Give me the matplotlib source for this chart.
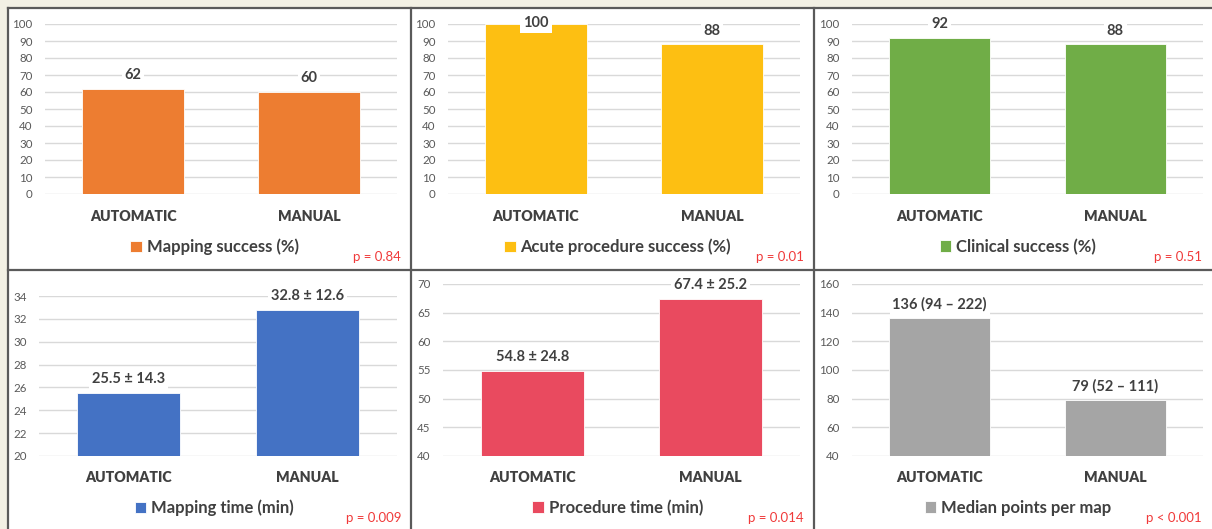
import matplotlib
matplotlib.use('Agg')
import matplotlib.pyplot as plt
from matplotlib.lines import Line2D
from matplotlib.patches import Rectangle
from matplotlib.transforms import blended_transform_factory

plt.rcParams['font.family'] = ['Lato', 'DejaVu Sans']

W, H = 1212, 529

categories = ['AUTOMATIC', 'MANUAL']

mapping_success = [62, 60]
acute_success = [100, 88]
clinical_success = [92, 88]

mapping_time = [25.5, 32.8]
mapping_time_sd = [14.3, 12.6]
procedure_time = [54.8, 67.4]
procedure_time_sd = [24.8, 25.2]

median_points = [136, 79]
points_q1 = [94, 52]
points_q3 = [222, 111]

series_names = ['Mapping success (%)', 'Acute procedure success (%)', 'Clinical success (%)',
                'Mapping time (min)', 'Procedure time (min)', 'Median points per map']
p_values = ['p = 0.84', 'p = 0.01', 'p = 0.51', 'p = 0.009', 'p = 0.014', 'p < 0.001']
colors = ['#ED7D31', '#FDBF12', '#70AD47', '#4472C4', '#E94A5F', '#A5A5A5']

pct_labels = lambda vals: [f'{v:g}' for v in vals]
panels = [
  (mapping_success, pct_labels(mapping_success), (0, 100, 10)),
  (acute_success, pct_labels(acute_success), (0, 100, 10)),
  (clinical_success, pct_labels(clinical_success), (0, 100, 10)),
  (mapping_time, [f'{m} ± {s}' for m, s in zip(mapping_time, mapping_time_sd)], (20, 34, 2)),
  (procedure_time, [f'{m} ± {s}' for m, s in zip(procedure_time, procedure_time_sd)], (40, 70, 5)),
  (median_points, [f'{m} ({a} – {b})' for m, a, b in zip(median_points, points_q1, points_q3)], (40, 160, 20)),
]

# plot areas in pixels: left, top, right, bottom
plot_boxes = [(45, 24, 397, 194), (448, 24, 800, 194), (852, 24, 1203, 194),
              (39, 296, 397, 456), (443, 284, 800, 456), (852, 284, 1203, 456)]
# cell frames in pixels: left, right, category-label y, legend y, p-value y
cells = [(8, 411, 217, 247, 257), (411, 814, 217, 247, 257), (814, 1212, 217, 247, 257),
         (8, 411, 477, 508, 518), (411, 814, 477, 508, 518), (814, 1212, 477, 508, 518)]

def px_rect(x0, y0, x1, y1):
  return [x0 / W, 1 - y1 / H, (x1 - x0) / W, (y1 - y0) / H]

fig = plt.figure(figsize=(W / 100, H / 100), dpi=100)
fig.patch.set_facecolor('#F2F0E4')
fig.patches.append(Rectangle((8 / W, 0), 1, 1 - 8 / H, transform=fig.transFigure,
                             facecolor='white', edgecolor='none', zorder=-2))

# frame around the six cells
frame_kw = dict(color='#5A5A5A', linewidth=1.6, transform=fig.transFigure, zorder=5)
fig.lines.append(Line2D([8 / W, 1], [1 - 8 / H, 1 - 8 / H], **frame_kw))
fig.lines.append(Line2D([8 / W, 8 / W], [0, 1 - 8 / H], **frame_kw))
fig.lines.append(Line2D([8 / W, 1], [1 - 270 / H, 1 - 270 / H], **frame_kw))
for xv in (411, 814):
  fig.lines.append(Line2D([xv / W, xv / W], [0, 1 - 8 / H], **frame_kw))

for i, (values, labels, (ymin, ymax, step)) in enumerate(panels):
  ax = fig.add_axes(px_rect(*plot_boxes[i]))
  ax.bar(range(len(categories)), values, width=0.575, color=colors[i],
         edgecolor='white', linewidth=0.6, label=series_names[i])
  ax.set_xlim(-0.5, 1.5)
  ax.set_ylim(ymin, ymax)
  ax.tick_params(axis='y', length=0, pad=9, labelsize=8.3, labelcolor='#595959')
  ax.set_yticks(range(ymin, ymax + 1, step))
  ax.set_xticks([])
  ax.grid(axis='y', color='#D9D9D9', linewidth=1)
  ax.set_axisbelow(True)
  for s in ax.spines.values():
    s.set_visible(False)
  ax.set_facecolor('none')

  cx0, cx1, cy, ly, py = cells[i]
  # category names under each bar
  cat_trans = blended_transform_factory(ax.transData, fig.transFigure)
  for j, cat in enumerate(categories):
    ax.text(j, 1 - cy / H, cat, transform=cat_trans, ha='center', va='center',
            fontsize=10.2, fontweight='heavy', color='#404040')

  for j, (v, lab) in enumerate(zip(values, labels)):
    off = 1 if v >= ymax else 10
    ax.annotate(lab, (j, v), xytext=(0, off), textcoords='offset points',
                ha='center', va='center', fontsize=10.5, fontweight='bold', color='#404040',
                bbox=dict(boxstyle='square,pad=0.2', facecolor='white', edgecolor='none'),
                annotation_clip=False, zorder=4)

  ax.legend(loc='center', bbox_to_anchor=((cx0 + cx1) / 2 / W + 5 / W, 1 - ly / H),
            bbox_transform=fig.transFigure, frameon=False,
            prop={'weight': 'bold', 'size': 12}, handlelength=0.7, handleheight=0.7,
            handletextpad=0.3, labelcolor='#404040')
  fig.text((cx1 - 10) / W, 1 - py / H, p_values[i], ha='right', va='center',
           fontsize=9.5, color='#F03A3A')

fig.savefig('out.png', dpi=100, facecolor=fig.get_facecolor())
